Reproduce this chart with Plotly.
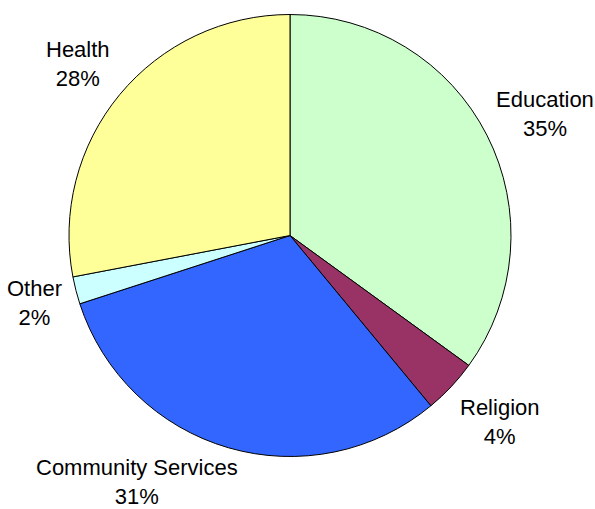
import plotly.graph_objects as go

labels = ["Education", "Religion", "Community Services", "Other", "Health"]
values = [35, 4, 31, 2, 28]
colors = ["#CCFFCC", "#993366", "#3366FF", "#CCFFFF", "#FFFF99"]

W, H = 595, 509
cx, cy, r = 290, 235.5, 221

# label block centres in pixels (layout only)
label_pos = [(545, 114), (500, 422), (137, 482), (34, 303), (78, 64)]

fig = go.Figure(go.Pie(
    labels=labels,
    values=values,
    sort=False,
    direction="clockwise",
    rotation=0,
    marker=dict(colors=colors, line=dict(color="#000000", width=1)),
    textinfo="none",
    showlegend=False,
    hoverinfo="label+percent",
    domain=dict(x=[(cx - r) / W, (cx + r) / W], y=[1 - (cy + r) / H, 1 - (cy - r) / H]),
))

total = sum(values)
for lab, val, (px, py) in zip(labels, values, label_pos):
    fig.add_annotation(
        x=px / W, y=1 - py / H, xref="paper", yref="paper",
        text=f"{lab}<br>{round(100 * val / total)}%",
        showarrow=False, xanchor="center", yanchor="middle", align="center",
        borderpad=0,
        font=dict(family="Liberation Sans, Arial, sans-serif", size=22, color="#000000"),
    )

fig.update_layout(
    width=W, height=H,
    margin=dict(l=0, r=0, t=0, b=0),
    paper_bgcolor="white",
    plot_bgcolor="white",
)
fig.write_html("out.html")
